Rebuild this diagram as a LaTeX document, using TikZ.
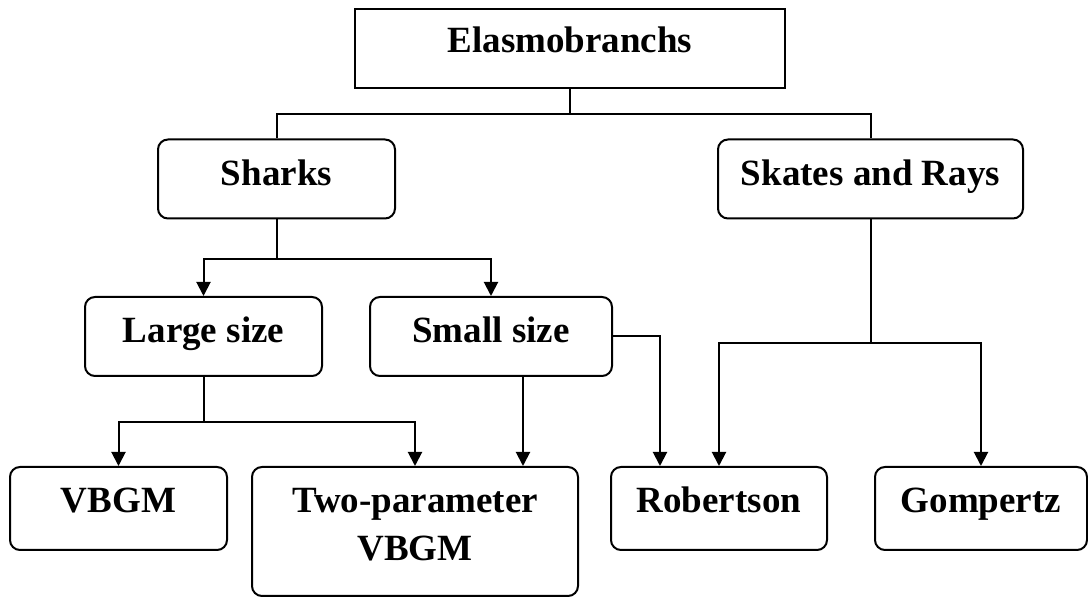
\documentclass[tikz,border=0pt]{standalone}
\usepackage{fontspec}
\setmainfont{Liberation Serif}
\usetikzlibrary{arrows.meta}
\tikzstyle{plainBox}=[shape = rectangle, draw, line width = 1pt, inner sep = 0pt, font = \fontsize{18.5}{24}\selectfont\bfseries, text height = 22pt, text depth = 17.5pt]
\tikzstyle{roundedBox}=[plainBox, rounded corners = 5pt, text height = 23pt, text depth = 16.5pt]
\tikzstyle{leafBox}=[roundedBox, text depth = 18.5pt]
\tikzstyle{link}=[line width = 1pt]
\tikzstyle{arrowLink}=[link, -{Triangle[width = 7pt, length = 7pt]}]

\begin{document}
\begin{tikzpicture}[x = 0.5pt, y = -0.5pt]
\useasboundingbox (0,0) rectangle (1088,597);
\node[plainBox, minimum width = 215pt] (elasmo) at (570,48.5) {Elasmobranchs};
\node[roundedBox, minimum width = 118.5pt] (sharks) at (276.5,179) {Sharks};
\node[roundedBox, minimum width = 152.5pt] (skates) at (870.5,179) {Skates and Rays};
\node[roundedBox, minimum width = 118.5pt] (large) at (203.5,336.5) {Large size};
\node[roundedBox, minimum width = 121pt] (small) at (491,336.5) {Small size};
\node[leafBox, minimum width = 108.5pt] (vbgm) at (118.5,508.5) {VBGM};
\node[leafBox, minimum width = 163pt, text depth = 41.5pt] (twoparam) at (415,531.5) {\begin{tabular}[t]{@{}c@{}}Two-parameter\\VBGM\end{tabular}};
\node[leafBox, minimum width = 108pt] (robertson) at (719,508.5) {Robertson};
\node[leafBox, minimum width = 106pt] (gompertz) at (981,508.5) {Gompertz};
% top level
\draw[link] (elasmo.south) -- ++(0,25) -| (sharks.north);
\draw[link] (elasmo.south) ++(0,25) -| (skates.north);
% sharks
\draw[arrowLink] (sharks.south) -- ++(0,40) -| (large.north);
\draw[arrowLink] (sharks.south) ++(0,40) -| (small.north);
\draw[arrowLink] (large.south) -- ++(0,45) -| (vbgm.north);
\draw[arrowLink] (large.south) ++(0,45) -| (twoparam.north);
\draw[arrowLink] ([xshift = 16pt]small.south) -- ([xshift = 16pt]small.south |- twoparam.north);
\draw[arrowLink] (small.east) -| ([xshift = -29.5pt]robertson.north);
% skates and rays
\draw[arrowLink] (skates.south) -- ++(0,124) -| (robertson.north);
\draw[arrowLink] (skates.south) ++(0,124) -| (gompertz.north);
\end{tikzpicture}
\end{document}
